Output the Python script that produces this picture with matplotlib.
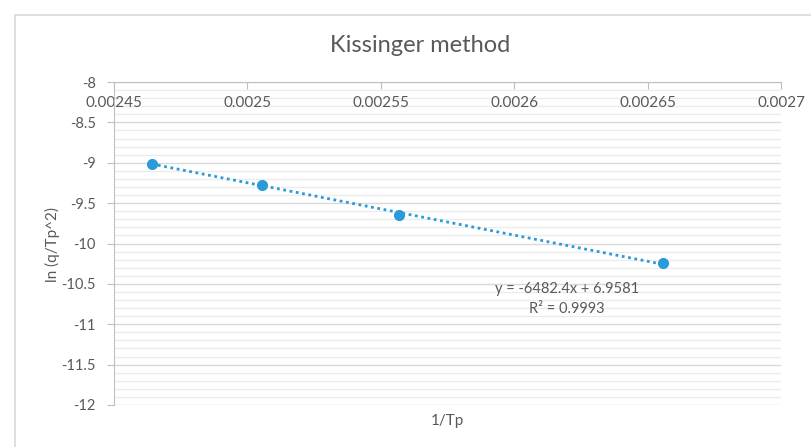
import matplotlib.pyplot as plt
from matplotlib.patches import Rectangle
from matplotlib.ticker import MultipleLocator, FixedLocator
import numpy as np

# Kissinger data: 1/Tp against ln(q/Tp^2)
inv_tp = [0.0024641, 0.0025056, 0.0025569, 0.0026559]
ln_q_tp2 = [-9.015, -9.276, -9.647, -10.245]

# linear trendline (as reported)
slope = -6482.4
intercept = 6.9581
r_squared = 0.9993

x_ticks = [0.00245, 0.0025, 0.00255, 0.0026, 0.00265, 0.0027]
x_tick_labels = ["0.00245", "0.0025", "0.00255", "0.0026", "0.00265", "0.0027"]
y_ticks = [-8, -8.5, -9, -9.5, -10, -10.5, -11, -11.5, -12]
y_tick_labels = ["-8", "-8.5", "-9", "-9.5", "-10", "-10.5", "-11", "-11.5", "-12"]

plt.rcParams['font.family'] = ['Lato', 'DejaVu Sans']
txt = '#595959'
blue = '#2a9ad8'

fig = plt.figure(figsize=(8.11, 4.47), dpi=100)
ax = fig.add_axes([114/811, 42/447, 667/811, 323/447])

# chart area border
fig.patches.append(Rectangle((15/811, -0.2), 1.2, (447-15)/447 + 0.2,
                             transform=fig.transFigure, fill=False,
                             edgecolor='#d9d9d9', lw=1.2))

ax.set_xlim(0.00245, 0.0027)
ax.set_ylim(-12, -8)

ax.yaxis.set_major_locator(FixedLocator(y_ticks))
ax.set_yticklabels(y_tick_labels)
ax.yaxis.set_minor_locator(MultipleLocator(0.1))
ax.xaxis.set_major_locator(FixedLocator(x_ticks))
ax.set_xticklabels(x_tick_labels)

ax.grid(which='major', axis='y', color='#d9d9d9', lw=1.0)
ax.grid(which='minor', axis='y', color='#ececec', lw=1.0)
ax.set_axisbelow(True)

# x axis crosses at y = -8, so it sits on top; its labels go over the grid
for s in ['top', 'right']:
    ax.spines[s].set_visible(False)
ax.spines['bottom'].set_position(('data', -8))
ax.spines['bottom'].set_color('#bfbfbf')
ax.spines['left'].set_color('#bfbfbf')
ax.xaxis.set_zorder(2)
ax.tick_params(axis='x', which='major', direction='out', length=5, color='#bfbfbf',
               labelsize=11, labelcolor=txt, pad=5)
ax.tick_params(axis='y', which='major', direction='out', length=5, color='#bfbfbf',
               labelsize=10.5, labelcolor=txt, pad=8)
ax.tick_params(axis='y', which='minor', length=0)

# trendline across the data range
xs = np.array([inv_tp[0], inv_tp[-1]])
ax.plot(xs, slope * xs + intercept, color=blue, lw=2, linestyle=(0, (1, 1.3)))
ax.plot(inv_tp, ln_q_tp2, 'o', color=blue, markersize=7, zorder=3)

ax.text(0.679, 0.358, f"y = {slope}x + {intercept}", transform=ax.transAxes,
        ha='center', va='center', fontsize=10.5, color=txt)
ax.text(0.679, 0.296, f"R\u00b2 = {r_squared}", transform=ax.transAxes,
        ha='center', va='center', fontsize=10.5, color=txt)

fig.text(420/811, 1 - 45/447, "Kissinger method", ha='center', va='center',
         fontsize=17, color=txt)
ax.text(0.5, -0.05, "1/Tp", transform=ax.transAxes, ha='center', va='center',
        fontsize=11, color=txt)
fig.text(52/811, 1 - 245/447, "ln (q/Tp^2)", rotation=90, ha='center', va='center',
         fontsize=11, color=txt)

fig.savefig('out.png', dpi=100)
